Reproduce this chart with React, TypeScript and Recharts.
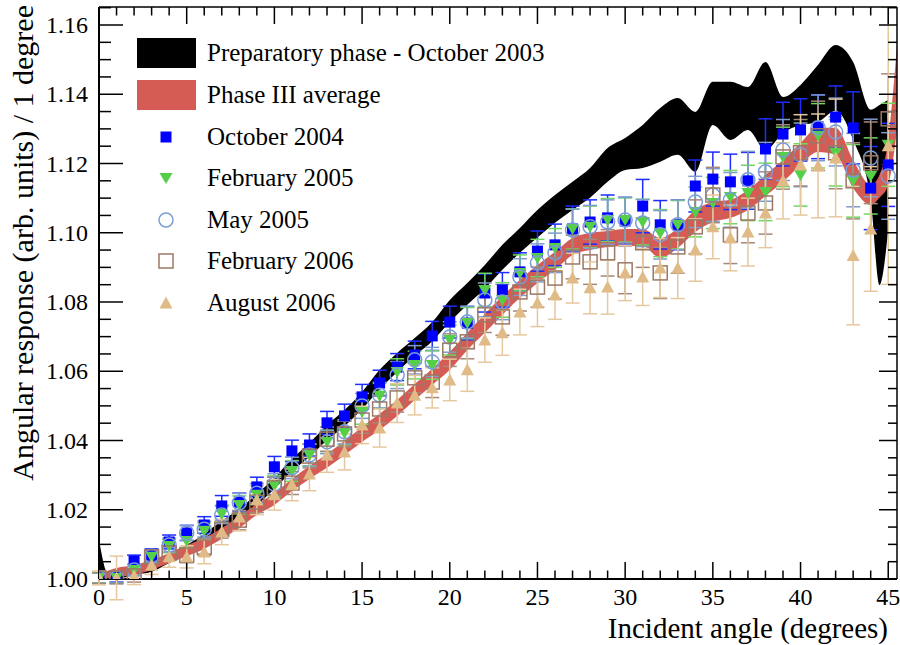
import React from 'react';
import { ComposedChart, Area, Scatter, ErrorBar, XAxis, YAxis, Legend, ReferenceLine } from 'recharts';

// incident angles (degrees) of the measured points
const angles = [
  0, 1, 2, 3, 4, 5, 6, 7, 8, 9, 10, 11, 12, 13, 14, 15, 16, 17, 18, 19, 20, 21, 22,
  23, 24, 25, 26, 27, 28, 29, 30, 31, 32, 33, 34, 35, 36, 37, 38, 39, 40, 41, 42, 43, 44, 45,
];

// sampling of the two bands
const bandAngles = [
  0, 0.5, 1, 2, 3, 4, 5, 6, 7, 8, 9, 10, 11, 12, 13, 14, 15, 16, 17, 18, 19, 20, 21, 22,
  23, 24, 25, 26, 27, 28, 29, 30, 31, 32, 33, 34, 35, 36, 37, 38, 39, 40, 41, 42, 43, 44, 44.5, 45, 45.5,
];

const prepHigh = [
  1.0113, 1.0015, 1.0009, 1.0032, 1.004, 1.0069, 1.0098, 1.013, 1.0168, 1.0202, 1.0246, 1.0292, 1.0347,
  1.0393, 1.0445, 1.0488, 1.054, 1.0604, 1.0653, 1.0696, 1.0742, 1.0806, 1.0855, 1.0907, 1.0965,
  1.1014, 1.1066, 1.1109, 1.1147, 1.1187, 1.1245, 1.1274, 1.1311, 1.136, 1.1389, 1.1349, 1.1436,
  1.1436, 1.1421, 1.1493, 1.1392, 1.1427, 1.1485, 1.1542, 1.1493, 1.1355, 1.1369, 1.1384, null,
];
const prepLow = [
  1.0, 1.0, 1.0, 1.0012, 1.0021, 1.0046, 1.0074, 1.0105, 1.0141, 1.0175, 1.0214, 1.026, 1.0311,
  1.0353, 1.0401, 1.0441, 1.049, 1.0548, 1.0598, 1.0645, 1.0687, 1.0742, 1.0792, 1.0838, 1.0893,
  1.0942, 1.0986, 1.1029, 1.1066, 1.1101, 1.1147, 1.1181, 1.1187, 1.1205, 1.1225, 1.1176, 1.1311,
  1.1268, 1.1297, 1.1239, 1.1288, 1.1311, 1.132, 1.1352, 1.1268, 1.1095, 1.0849, 1.1008, null,
];

const phase3High = [
  1.0014, 1.0024, 1.0032, 1.004, 1.0055, 1.0075, 1.0098, 1.0118, 1.0147, 1.0182, 1.0217, 1.0248, 1.0289,
  1.0326, 1.0361, 1.0399, 1.0439, 1.0477, 1.0517, 1.0563, 1.0607, 1.0656, 1.0711, 1.0765, 1.0817,
  1.0864, 1.0907, 1.0945, 1.0985, 1.0999, 1.1005, 1.1011, 1.1011, 1.0985, 1.1014, 1.1066, 1.1089,
  1.1095, 1.1124, 1.1167, 1.121, 1.1259, 1.1303, 1.1303, 1.121, 1.1138, 1.1167, 1.1268, 1.1542,
];
const phase3Low = [
  1.0, 1.0003, 1.0006, 1.0012, 1.0026, 1.0046, 1.0066, 1.0087, 1.0116, 1.0147, 1.0185, 1.0214, 1.0254,
  1.0289, 1.0321, 1.0358, 1.0396, 1.043, 1.0471, 1.0517, 1.056, 1.0604, 1.0661, 1.0711, 1.0763,
  1.0812, 1.0855, 1.0893, 1.0936, 1.095, 1.0959, 1.0962, 1.0962, 1.0927, 1.0956, 1.1002, 1.1031,
  1.1043, 1.1066, 1.1106, 1.1147, 1.1196, 1.1233, 1.1225, 1.1129, 1.108, 1.1101, 1.1138, 1.1297,
];

const oct2004 = [
  1.0003, 1.0006, 1.0052, 1.0069, 1.0107, 1.0133, 1.0156, 1.0211, 1.0222, 1.0266, 1.0324, 1.037,
  1.0387, 1.0451, 1.0471, 1.0526, 1.0566, 1.0612, 1.0647, 1.0702, 1.0742, 1.0739, 1.0826, 1.0835,
  1.0887, 1.0947, 1.0965, 1.1011, 1.1031, 1.1043, 1.1034, 1.1077, 1.1023, 1.1023, 1.1135, 1.1155,
  1.1147, 1.115, 1.1242, 1.1285, 1.1297, 1.1306, 1.1334, 1.1303, 1.1129, 1.1196,
];
const oct2004Err = [
  0.0015, 0.0015, 0.0017, 0.0018, 0.002, 0.0022, 0.0024, 0.003, 0.0026, 0.0028, 0.003, 0.0031,
  0.0032, 0.0033, 0.0034, 0.0036, 0.0037, 0.0039, 0.004, 0.0042, 0.0046, 0.0048, 0.0055, 0.005,
  0.0055, 0.0058, 0.006, 0.0066, 0.0064, 0.0066, 0.0068, 0.0077, 0.007, 0.0072, 0.0075, 0.0078,
  0.008, 0.0082, 0.0087, 0.0092, 0.009, 0.0092, 0.009, 0.0104, 0.012, 0.012,
];

const feb2005 = [
  1.0003, 1.0003, 1.0026, 1.0064, 1.0095, 1.011, 1.0139, 1.0188, 1.0214, 1.0243, 1.0269, 1.0312,
  1.0358, 1.0396, 1.0422, 1.0482, 1.0529, 1.0598, 1.0618, 1.0618, 1.069, 1.0739, 1.0835, 1.0806,
  1.0884, 1.0927, 1.0956, 1.1011, 1.1017, 1.1037, 1.1037, 1.1031, 1.0999, 1.1023, 1.106, 1.1086,
  1.1103, 1.1115, 1.1118, 1.1219, 1.1167, 1.128, 1.1231, 1.115, 1.1164, 1.1254,
];
const feb2005Err = [
  0.0014, 0.0015, 0.0016, 0.0018, 0.0019, 0.0021, 0.0023, 0.0025, 0.0026, 0.0027, 0.0029, 0.003,
  0.0031, 0.0033, 0.0034, 0.0035, 0.0036, 0.0038, 0.004, 0.0041, 0.0043, 0.0045, 0.0048, 0.005,
  0.0052, 0.0054, 0.0056, 0.0058, 0.006, 0.0062, 0.0064, 0.0066, 0.0068, 0.007, 0.0072, 0.0074,
  0.0077, 0.008, 0.0083, 0.0086, 0.009, 0.0093, 0.0096, 0.0105, 0.011, 0.012,
];

const may2005 = [
  1.0003, 1.0003, 1.0026, 1.0066, 1.0098, 1.0133, 1.0144, 1.0185, 1.022, 1.0248, 1.0274, 1.0321,
  1.0358, 1.0396, 1.0425, 1.05, 1.0531, 1.0589, 1.0633, 1.0627, 1.0699, 1.0742, 1.0806, 1.08,
  1.0872, 1.0913, 1.0942, 1.1008, 1.1017, 1.1031, 1.1037, 1.1028, 1.0994, 1.1023, 1.1089, 1.1109,
  1.1095, 1.1153, 1.1176, 1.1239, 1.1225, 1.1303, 1.1291, 1.1181, 1.1216, 1.1164,
];
const may2005Err = [
  0.0015, 0.0016, 0.0017, 0.0018, 0.002, 0.0021, 0.0023, 0.0025, 0.0027, 0.0028, 0.003, 0.0031,
  0.0032, 0.0034, 0.0035, 0.0036, 0.0037, 0.0039, 0.0041, 0.0042, 0.0044, 0.0046, 0.0049, 0.0051,
  0.0053, 0.0055, 0.0057, 0.006, 0.0062, 0.0064, 0.0066, 0.0068, 0.007, 0.0072, 0.0074, 0.0076,
  0.0079, 0.0082, 0.0085, 0.0088, 0.0092, 0.0095, 0.0098, 0.0106, 0.0112, 0.0125,
];

const feb2006 = [
  1.0003, 1.0003, 1.0009, 1.0064, 1.0075, 1.0069, 1.0092, 1.0144, 1.017, 1.0222, 1.0263, 1.0277,
  1.0355, 1.0404, 1.0419, 1.0459, 1.0491, 1.0523, 1.0581, 1.0569, 1.0661, 1.0685, 1.0763, 1.0757,
  1.0829, 1.0843, 1.0869, 1.093, 1.0916, 1.0942, 1.0893, 1.0971, 1.0884, 1.0959, 1.1017, 1.1109,
  1.0994, 1.1057, 1.1086, 1.1219, 1.1231, 1.128, 1.1231, 1.115, 1.1202, 1.1329,
];
const feb2006Err = [
  0.0016, 0.0017, 0.0018, 0.0019, 0.0021, 0.0022, 0.0024, 0.0026, 0.0028, 0.003, 0.0031, 0.0033,
  0.0034, 0.0035, 0.0037, 0.0038, 0.004, 0.0041, 0.0043, 0.0045, 0.0047, 0.0049, 0.0051, 0.0053,
  0.0055, 0.0058, 0.006, 0.0063, 0.0065, 0.0067, 0.0069, 0.0071, 0.0074, 0.0076, 0.0078, 0.008,
  0.0083, 0.0086, 0.009, 0.0093, 0.0096, 0.01, 0.0104, 0.011, 0.0118, 0.013,
];

const aug2006 = [
  1.0003, 1.0003, 1.0009, 1.004, 1.0064, 1.0064, 1.0078, 1.0136, 1.0179, 1.0228, 1.0243, 1.0272,
  1.0303, 1.0358, 1.0367, 1.0445, 1.0436, 1.0508, 1.0531, 1.0552, 1.0575, 1.0604, 1.069, 1.0711,
  1.0771, 1.0797, 1.082, 1.0869, 1.0841, 1.0843, 1.0884, 1.0872, 1.0898, 1.0898, 1.095, 1.1017,
  1.0985, 1.1002, 1.1057, 1.115, 1.1196, 1.1193, 1.1216, 1.0934, 1.1011, 1.1251,
];
const aug2006Err = [
  0.002, 0.0063, 0.0025, 0.0027, 0.003, 0.0032, 0.0034, 0.0037, 0.004, 0.0042, 0.0044, 0.0046,
  0.0048, 0.005, 0.0052, 0.0054, 0.0055, 0.0056, 0.0057, 0.0058, 0.006, 0.0062, 0.0064, 0.0065,
  0.0066, 0.0068, 0.007, 0.0072, 0.0075, 0.0078, 0.008, 0.0082, 0.0085, 0.0088, 0.009, 0.0092,
  0.0095, 0.0098, 0.01, 0.011, 0.0145, 0.015, 0.017, 0.02, 0.018, 0.04,
];

const seriesNames = [
  'Preparatory phase - October 2003',
  'Phase III average',
  'October 2004',
  'February 2005',
  'May 2005',
  'February 2006',
  'August 2006',
];

const xMajorTicks = [0, 5, 10, 15, 20, 25, 30, 35, 40, 45];
const xMinorTicks = angles;
const yMajorTicks = [1.0, 1.02, 1.04, 1.06, 1.08, 1.1, 1.12, 1.14, 1.16];
const yMinorTicks = Array.from({ length: 34 }, (_, i) => +(1 + i * 0.005).toFixed(3));

const X_DOMAIN = [0, 45.5];
const Y_DOMAIN = [1.0, 1.1652];
const FONT = '"Liberation Serif", "Times New Roman", serif';
const RED = '#d55b55';

const bandData = bandAngles.map((x, i) => ({
  x,
  prep: prepHigh[i] == null ? null : [prepLow[i], prepHigh[i]],
  phase3: [phase3Low[i], phase3High[i]],
}));

const points = (vals: number[], errs: number[]) =>
  angles.map((x, i) => ({ x, y: vals[i], err: errs[i] }));

const BlueSquare = ({ cx, cy }: any) => (
  <rect x={cx - 5.5} y={cy - 5.5} width={11} height={11} fill="#0000ff" />
);
const GreenDown = ({ cx, cy }: any) => (
  <path d={`M${cx - 6.5},${cy - 5}L${cx + 6.5},${cy - 5}L${cx},${cy + 6}Z`} fill="#55cf48" />
);
const OpenCircle = ({ cx, cy }: any) => (
  <circle cx={cx} cy={cy} r={7} fill="none" stroke="#7b9bd8" strokeWidth={1.5} />
);
const OpenSquare = ({ cx, cy }: any) => (
  <rect x={cx - 7} y={cy - 7} width={14} height={14} fill="none" stroke="#9c7866" strokeWidth={1.5} />
);
const BeigeUp = ({ cx, cy }: any) => (
  <path d={`M${cx - 6.5},${cy + 5.5}L${cx + 6.5},${cy + 5.5}L${cx},${cy - 6.5}Z`} fill="#e0bb88" />
);

const textStyle = (size: number) => ({ fontFamily: FONT, fontSize: size, fill: '#000' });

const XTick = ({ x, y, payload }: any) => (
  <text x={x} y={y} dy={17} textAnchor="middle" style={textStyle(24)}>
    {payload.value}
  </text>
);
const YTick = ({ x, y, payload }: any) => (
  <text x={x} y={y} dy={8} textAnchor="end" style={textStyle(24)}>
    {Number(payload.value).toFixed(2)}
  </text>
);

const renderLegend = () => {
  const text = (i: number, y: number) => (
    <text x={70} y={y + 8} style={textStyle(25)}>
      {seriesNames[i]}
    </text>
  );
  return (
    <svg width={480} height={290} style={{ display: 'block' }}>
      <rect x={0} y={1} width={59} height={30} fill="#000" />
      {text(0, 16)}
      <rect x={0} y={43} width={59} height={30} fill={RED} />
      {text(1, 58)}
      <BlueSquare cx={29} cy={100} />
      {text(2, 100)}
      <GreenDown cx={29} cy={141} />
      {text(3, 141)}
      <OpenCircle cx={29} cy={183} />
      {text(4, 183)}
      <OpenSquare cx={29} cy={224} />
      {text(5, 224)}
      <BeigeUp cx={29} cy={266} />
      {text(6, 266)}
    </svg>
  );
};

// inward tick marks on all four sides, drawn through reference lines
const xTickMark = (v: number) => {
  const len = xMajorTicks.includes(v) ? 17 : 8.5;
  return (
    <ReferenceLine
      key={`xt${v}`}
      xAxisId="main"
      yAxisId="main"
      x={v}
      ifOverflow="visible"
      shape={(p: any) => {
        const yb = Math.max(p.y1, p.y2);
        const yt = Math.min(p.y1, p.y2);
        return (
          <g>
            <line x1={p.x1} x2={p.x1} y1={yb} y2={yb - len} stroke="#000" strokeWidth={1.5} />
            <line x1={p.x1} x2={p.x1} y1={yt} y2={yt + len} stroke="#000" strokeWidth={1.5} />
          </g>
        );
      }}
    />
  );
};

const yTickMark = (v: number) => {
  const major = yMajorTicks.some((t) => Math.abs(t - v) < 1e-6);
  const leftLen = major ? 24 : 12;
  const rightLen = major ? 18 : 9;
  return (
    <ReferenceLine
      key={`yt${v}`}
      xAxisId="main"
      yAxisId="main"
      y={v}
      ifOverflow="visible"
      shape={(p: any) => {
        const xl = Math.min(p.x1, p.x2);
        const xr = Math.max(p.x1, p.x2);
        return (
          <g>
            <line x1={xl} x2={xl + leftLen} y1={p.y1} y2={p.y1} stroke="#000" strokeWidth={1.5} />
            <line x1={xr} x2={xr - rightLen} y1={p.y1} y2={p.y1} stroke="#000" strokeWidth={1.5} />
          </g>
        );
      }}
    />
  );
};

export default function App() {
  return (
    <div style={{ position: 'absolute', left: 0, top: 0, width: 900, height: 645, background: '#fff' }}>
      <ComposedChart
        width={900}
        height={645}
        data={bandData}
        margin={{ top: 7, right: 3, left: 39, bottom: 36 }}
      >
        <XAxis
          xAxisId="main"
          type="number"
          dataKey="x"
          domain={X_DOMAIN}
          allowDataOverflow
          ticks={xMajorTicks}
          interval={0}
          height={30}
          tickLine={false}
          tickSize={0}
          tickMargin={9}
          axisLine={{ stroke: '#000', strokeWidth: 2 }}
          tick={<XTick />}
          label={{
            content: ({ viewBox }: any) => (
              <text
                x={viewBox.x + viewBox.width - 9}
                y={viewBox.y + 59}
                textAnchor="end"
                style={textStyle(29)}
              >
                Incident angle (degrees)
              </text>
            ),
          }}
        />
        <YAxis
          yAxisId="main"
          type="number"
          domain={Y_DOMAIN}
          allowDataOverflow
          ticks={yMajorTicks}
          interval={0}
          width={60}
          tickLine={false}
          tickSize={0}
          tickMargin={11}
          axisLine={{ stroke: '#000', strokeWidth: 2 }}
          tick={<YTick />}
          label={{
            content: ({ viewBox }: any) => (
              <text
                transform={`translate(${viewBox.x - 6},${viewBox.y - 2}) rotate(-90)`}
                textAnchor="end"
                style={textStyle(30)}
              >
                Angular response (arb. units) / 1 degree
              </text>
            ),
          }}
        />

        <Legend
          content={renderLegend}
          layout="vertical"
          align="center"
          verticalAlign="middle"
          wrapperStyle={{ left: 137, top: 37, width: 480, height: 290 }}
        />

        <Area
          xAxisId="main"
          yAxisId="main"
          dataKey="prep"
          type="monotone"
          fill="#000"
          fillOpacity={1}
          stroke="none"
          isAnimationActive={false}
        />
        <Area
          xAxisId="main"
          yAxisId="main"
          dataKey="phase3"
          type="monotone"
          fill={RED}
          fillOpacity={1}
          stroke="none"
          isAnimationActive={false}
        />

        <Scatter xAxisId="main" yAxisId="main" data={points(oct2004, oct2004Err)} dataKey="y" shape={BlueSquare} isAnimationActive={false}>
          <ErrorBar dataKey="err" direction="y" width={7} stroke="#1d2cff" strokeWidth={1.5} isAnimationActive={false} />
        </Scatter>
        <Scatter xAxisId="main" yAxisId="main" data={points(feb2005, feb2005Err)} dataKey="y" shape={GreenDown} isAnimationActive={false}>
          <ErrorBar dataKey="err" direction="y" width={7} stroke="#6fd95e" strokeWidth={1.5} isAnimationActive={false} />
        </Scatter>
        <Scatter xAxisId="main" yAxisId="main" data={points(may2005, may2005Err)} dataKey="y" shape={OpenCircle} isAnimationActive={false}>
          <ErrorBar dataKey="err" direction="y" width={7} stroke="#7f9ccc" strokeWidth={1.5} isAnimationActive={false} />
        </Scatter>
        <Scatter xAxisId="main" yAxisId="main" data={points(feb2006, feb2006Err)} dataKey="y" shape={OpenSquare} isAnimationActive={false}>
          <ErrorBar dataKey="err" direction="y" width={7} stroke="#a4887a" strokeWidth={1.5} isAnimationActive={false} />
        </Scatter>
        <Scatter xAxisId="main" yAxisId="main" data={points(aug2006, aug2006Err)} dataKey="y" shape={BeigeUp} isAnimationActive={false}>
          <ErrorBar dataKey="err" direction="y" width={7} stroke="#e6c89e" strokeWidth={1.5} isAnimationActive={false} />
        </Scatter>

        {xMinorTicks.map(xTickMark)}
        {yMinorTicks.map(yTickMark)}
        <ReferenceLine xAxisId="main" yAxisId="main" y={Y_DOMAIN[1]} stroke="#000" strokeWidth={1.5} ifOverflow="visible" />
        <ReferenceLine xAxisId="main" yAxisId="main" x={X_DOMAIN[1]} stroke="#000" strokeWidth={1.5} ifOverflow="visible" />
      </ComposedChart>
    </div>
  );
}
